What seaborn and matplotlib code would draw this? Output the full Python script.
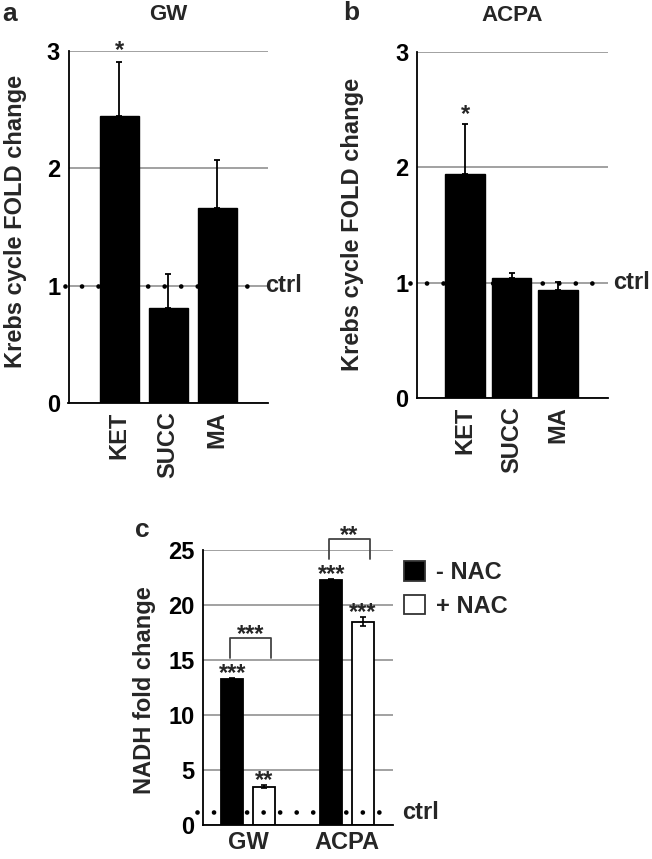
import numpy as np
import pandas as pd
import matplotlib
matplotlib.use("Agg")
import matplotlib.pyplot as plt
import seaborn as sns

# ---------------- data ----------------
metabolites = ["KET", "SUCC", "MA"]
gw_fold = [2.45, 0.81, 1.66]
gw_err = [0.46, 0.29, 0.41]
gw_sig = ["*", "", ""]
acpa_fold = [1.94, 1.04, 0.935]
acpa_err = [0.43, 0.04, 0.07]
acpa_sig = ["*", "", ""]
ctrl_fold = 1.0

treatments = ["GW", "ACPA"]
nac_labels = ["- NAC", "+ NAC"]
nadh_minus = [13.3, 22.3]
nadh_minus_err = [0.05, 0.05]
nadh_minus_sig = ["***", "***"]
nadh_plus = [3.5, 18.5]
nadh_plus_err = [0.1, 0.4]
nadh_plus_sig = ["**", "***"]
pair_sig = ["***", "**"]
pair_level = [17.0, 26.0]
ctrl_nadh = 1.15

# ---------------- style ----------------
sns.set_style("white")
plt.rcParams["font.family"] = ["Liberation Sans", "DejaVu Sans"]
plt.rcParams["font.weight"] = "bold"
plt.rcParams["axes.labelweight"] = "bold"
plt.rcParams["axes.titleweight"] = "bold"

FS = 17
GRID = "#9a9a9a"

fig = plt.figure(figsize=(6.52, 8.59), dpi=100)
W, H = 652.0, 859.0


def px_axes(l, t, r, b):
    return fig.add_axes([l / W, 1 - b / H, (r - l) / W, (b - t) / H])


def style_axes(ax, xlim):
    for s in ["top", "right"]:
        ax.spines[s].set_visible(False)
    for s in ["left", "bottom"]:
        ax.spines[s].set_color("black")
        ax.spines[s].set_linewidth(1.3)
    ax.set_xlim(*xlim)
    ax.yaxis.grid(True, color=GRID, lw=1.3)
    ax.xaxis.grid(False)
    ax.set_axisbelow(True)
    ax.tick_params(axis="y", length=4, width=1.2, pad=2, labelsize=FS,
                   direction="out", colors="black")
    ax.tick_params(axis="x", which="major", length=0, labelsize=FS)
    ax.set_xticks(list(xlim), minor=True)
    ax.tick_params(axis="x", which="minor", length=5, width=1.2, direction="out")


def ctrl_line(ax, x0, x1, y, xt):
    ax.plot([x0, x1], [y, y], color="black", lw=3.4,
            linestyle=(0, (0.001, 3.5)), dash_capstyle="round",
            clip_on=False, zorder=3)
    ax.text(xt, y, "ctrl", fontsize=FS, fontweight="bold", ha="left",
            va="center", clip_on=False)


def krebs_panel(ax, vals, errs, sig, width, xlim, title, dots, xt):
    df = pd.DataFrame({"metabolite": metabolites, "fold": vals})
    sns.barplot(data=df, x="metabolite", y="fold", color="black",
                saturation=1, width=width, edgecolor="black", ax=ax,
                errorbar=None)
    xs = np.arange(len(vals))
    ax.errorbar(xs, vals, yerr=[np.zeros(len(vals)), errs], fmt="none",
                ecolor="black", elinewidth=1.3, capsize=2.5, capthick=1.3,
                zorder=4)
    style_axes(ax, xlim)
    ax.set_ylim(0, 3)
    ax.set_yticks([0, 1, 2, 3])
    ax.set_xlabel("")
    ax.set_ylabel("Krebs cycle FOLD change", fontsize=FS, fontweight="bold")
    plt.setp(ax.get_xticklabels(), rotation=90, fontweight="bold")
    plt.setp(ax.get_yticklabels(), fontweight="bold")
    ax.tick_params(axis="x", which="major", pad=6)
    ax.set_title(title, fontsize=16, fontweight="bold", pad=22)
    for x, v, e, s in zip(xs, vals, errs, sig):
        if s:
            ax.text(x, v + e + 0.09, s, ha="center", va="center",
                    fontsize=FS, fontweight="bold")
    ctrl_line(ax, dots[0], dots[1], ctrl_fold, xt)


# ---------- panel a ----------
ax_a = px_axes(68.5, 51, 268, 403)
krebs_panel(ax_a, gw_fold, gw_err, gw_sig, 0.8, (-1.04, 3.04), "GW",
            (-1.11, 2.67), 2.98)
ax_a.yaxis.set_label_coords(-0.21, 0.517)

# ---------- panel b ----------
ax_b = px_axes(416.7, 51.7, 608, 398)
krebs_panel(ax_b, acpa_fold, acpa_err, acpa_sig, 0.85, (-1.04, 3.07), "ACPA",
            (-1.18, 2.82), 3.18)
ax_b.yaxis.set_label_coords(-0.278, 0.5)

# ---------- panel c ----------
ax_c = px_axes(203, 550, 393, 825)
df_c = pd.DataFrame({
    "treatment": treatments * 2,
    "nac": [nac_labels[0]] * 2 + [nac_labels[1]] * 2,
    "nadh": nadh_minus + nadh_plus,
})
sns.barplot(data=df_c, x="treatment", y="nadh", hue="nac",
            palette=["black", "white"], saturation=1, width=0.64, gap=0.3,
            edgecolor="black", linewidth=1.3, errorbar=None, ax=ax_c)
style_axes(ax_c, (-0.455, 1.465))
ax_c.set_ylim(0, 25)
ax_c.set_yticks([0, 5, 10, 15, 20, 25])
ax_c.set_xlabel("")
ax_c.set_ylabel("NADH fold change", fontsize=FS, fontweight="bold")
ax_c.yaxis.set_label_coords(-0.25, 0.49)
ax_c.tick_params(axis="x", which="major", pad=4)
plt.setp(ax_c.get_xticklabels(), fontweight="bold")
plt.setp(ax_c.get_yticklabels(), fontweight="bold")

groups = [(ax_c.containers[0], nadh_minus, nadh_minus_err, nadh_minus_sig),
          (ax_c.containers[1], nadh_plus, nadh_plus_err, nadh_plus_sig)]
centers = []
for cont, vals, errs, sigs in groups:
    xs = [r.get_x() + r.get_width() / 2 for r in cont]
    centers.append(xs)
    ax_c.errorbar(xs, vals, yerr=errs, fmt="none", ecolor="black",
                  elinewidth=1.2, capsize=2.5, capthick=1.2, zorder=4)
    for x, v, e, s in zip(xs, vals, errs, sigs):
        ax_c.text(x, v + e + 0.45, s, ha="center", va="center",
                  fontsize=FS, fontweight="bold", clip_on=False)

for i, (lvl, s) in enumerate(zip(pair_level, pair_sig)):
    x0 = centers[0][i] - 0.02
    x1 = centers[1][i] + 0.07
    ax_c.plot([x0, x0, x1, x1], [lvl - 1.8, lvl, lvl, lvl - 1.8],
              color="#444444", lw=1.3, clip_on=False)
    ax_c.text((x0 + x1) / 2, lvl + 0.35, s, ha="center", va="center",
              fontsize=FS, fontweight="bold", clip_on=False)

ctrl_line(ax_c, -0.516, 1.363, ctrl_nadh, 1.555)

handles, labels = ax_c.get_legend_handles_labels()
if ax_c.get_legend() is not None:
    ax_c.get_legend().remove()
for h in handles:
    h.set_edgecolor("#333333")
    h.set_linewidth(1.3)
fig.legend(handles, labels, loc="upper left",
           bbox_to_anchor=(404 / W, 1 - 561 / H), frameon=False,
           prop={"weight": "bold", "size": FS},
           handlelength=0.9, handleheight=0.9, handletextpad=0.45,
           labelspacing=0.45, borderpad=0, borderaxespad=0)

# panel letters
fig.text(2 / W, 1 - 21 / H, "a", fontsize=19, fontweight="bold", va="baseline")
fig.text(343 / W, 1 - 20 / H, "b", fontsize=19, fontweight="bold", va="baseline")
fig.text(135 / W, 1 - 537 / H, "c", fontsize=19, fontweight="bold", va="baseline")

fig.savefig("out.png", dpi=100)
